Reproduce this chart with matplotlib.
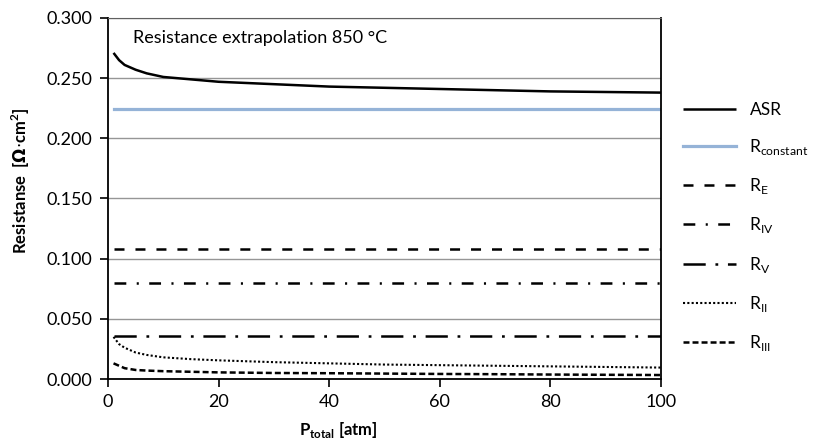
import matplotlib
matplotlib.use('agg')
import matplotlib.pyplot as plt
import numpy as np

plt.rcParams['font.family'] = ['Lato', 'DejaVu Sans']
plt.rcParams['lines.scale_dashes'] = False

# pressure points (atm)
p_total = [1, 2, 3, 5, 7, 10, 15, 20, 30, 40, 50, 60, 70, 80, 90, 100]

# resistances (ohm cm2)
asr = [0.271, 0.265, 0.261, 0.257, 0.254, 0.251, 0.249, 0.247, 0.245, 0.243,
       0.242, 0.241, 0.240, 0.239, 0.2385, 0.238]
r_constant = [0.224] * len(p_total)
r_e = [0.108] * len(p_total)
r_iv = [0.080] * len(p_total)
r_v = [0.036] * len(p_total)
r_ii = [0.035, 0.029, 0.026, 0.022, 0.020, 0.018, 0.0165, 0.0155, 0.014, 0.013,
        0.012, 0.0115, 0.011, 0.0105, 0.010, 0.0095]
r_iii = [0.013, 0.011, 0.009, 0.0075, 0.007, 0.0065, 0.006, 0.0055, 0.005, 0.0048,
         0.0045, 0.0042, 0.004, 0.0037, 0.0035, 0.0033]

fig = plt.figure(figsize=(8.18, 4.41), dpi=100)
ax = fig.add_axes([108/818, 1-379/441, (661-108)/818, (379-18)/441])

ax.plot(p_total, asr, color='black', lw=1.8, label='ASR', solid_capstyle='butt')
ax.plot(p_total, r_constant, color='#95b3d7', lw=2.3, label=r'R$_{\mathregular{constant}}$')
ax.plot(p_total, r_e, color='black', lw=1.8, dashes=(7.2, 7.9), label=r'R$_{\mathregular{E}}$')
ax.plot(p_total, r_iv, color='black', lw=1.8, dashes=(8.5, 7.5, 1.5, 7.5), label=r'R$_{\mathregular{IV}}$')
ax.plot(p_total, r_v, color='black', lw=1.8, dashes=(16, 7, 2, 7), label=r'R$_{\mathregular{V}}$')
ax.plot(p_total, r_ii, color='black', lw=1.5, dashes=(1.5, 1.6), label=r'R$_{\mathregular{II}}$')
ax.plot(p_total, r_iii, color='black', lw=1.8, dashes=(4.3, 2.2), label=r'R$_{\mathregular{III}}$')

ax.set_xlim(0, 100)
ax.set_ylim(0, 0.3)
ax.set_xticks(np.arange(0, 101, 20))
ax.set_yticks(np.arange(0, 0.301, 0.05))
ax.set_yticklabels(['%.3f' % v for v in np.arange(0, 0.301, 0.05)])
ax.tick_params(direction='out', length=6, width=1.2, labelsize=13, colors='black', pad=5)
ax.grid(axis='y', color='#969696', lw=1)
ax.set_axisbelow(True)
for s in ['left', 'bottom', 'right']:
    ax.spines[s].set_linewidth(1.3)
ax.spines['top'].set_color('#606060')

ax.set_ylabel(r'Resistanse  [$\mathbf{\Omega}$$\cdot$cm$^{\mathregular{2}}$]', fontsize=12,
              fontweight='bold')
ax.yaxis.set_label_coords(-0.158, 0.548)
ax.set_xlabel(r'P$_{\mathregular{total}}$ [atm]', fontsize=12, fontweight='bold')
ax.xaxis.set_label_coords((338-108)/553, -51/361)
ax.xaxis.label.set_va('center')
ax.yaxis.label.set_va('center')

ax.text(0.045, 0.945, 'Resistance extrapolation 850 \u00b0C', transform=ax.transAxes,
        fontsize=13, va='center', ha='left')

fig.legend(loc='upper left', bbox_to_anchor=(667/818, 1-86/441), frameon=False,
           fontsize=12.5, handlelength=3.1, labelspacing=1.11, handletextpad=0.75)

plt.savefig('out.png', dpi=100)
